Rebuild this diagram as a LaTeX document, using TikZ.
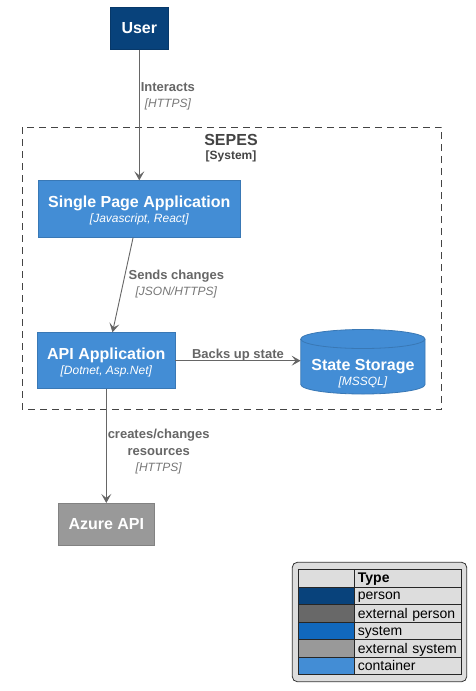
\documentclass[tikz,border=0pt]{standalone}
\usepackage{fontspec}
\setmainfont{Liberation Sans}
\usepackage{xcolor}
\usetikzlibrary{arrows.meta, positioning, calc}
\definecolor{personblue}{HTML}{08427B}
\definecolor{extperson}{HTML}{686868}
\definecolor{sysblue}{HTML}{1168BD}
\definecolor{extsys}{HTML}{999999}
\definecolor{contblue}{HTML}{438DD5}
\definecolor{relgray}{HTML}{666666}
\definecolor{techgray}{HTML}{777777}
\definecolor{boundgray}{HTML}{444444}
\definecolor{legbg}{HTML}{DDDDDD}
\newcommand{\tech}[1]{{\mdseries\itshape\fontsize{12}{14}\selectfont #1}}
\tikzset{
    elem/.style={rectangle, draw=#1, text=white, align=center, inner sep=0pt, line width=0.8pt,
        font=\fontsize{16}{15}\selectfont\bfseries},
    rel/.style={-{Stealth[length=9pt, width=10pt, inset=4pt]}, draw=relgray, line width=0.9pt},
    rellabel/.style={text=relgray, align=center, inner sep=1pt,
        font=\fontsize{13}{17}\selectfont\bfseries},
    boundary/.style={draw=boundgray, line width=0.8pt, dash pattern=on 7pt off 5pt},
    legcell/.style={rectangle, draw=black!85, line width=0.8pt, anchor=north west,
        minimum height=17.5pt, inner sep=0pt, font=\fontsize{14}{16}\selectfont},
    legtext/.style={legcell, fill=legbg, minimum width=106.4pt, text width=100pt, inner xsep=3.2pt,
        align=left, execute at begin node={\hyphenpenalty10000\relax}},
    every node/.style={text depth=0pt}
}

\begin{document}
\begin{tikzpicture}[x=1pt, y=-1pt]
    \useasboundingbox[fill=white] (0,0) rectangle (476,691);
    % boundary
    \draw[boundary] (22.3,127) rectangle (441.7,409.3);
    \node[text=boundgray, align=center, font=\fontsize{16}{15}\selectfont\bfseries] (sepes) at (231,147)
        {SEPES\\[-1pt]{\fontsize{12}{14}\selectfont [System]}};
    % elements
    \node[elem=personblue!85!black, fill=personblue, minimum width=57.6pt, minimum height=42pt] (user) at (139.3,28.3) {User};
    \node[elem=contblue!85!black, fill=contblue, minimum width=202.3pt, minimum height=56.6pt] (spa) at (139.3,209)
        {Single Page Application\\\tech{[Javascript, React]}};
    \node[elem=contblue!85!black, fill=contblue, minimum width=137.3pt, minimum height=56pt] (api) at (106.3,360.7)
        {API Application\\\tech{[Dotnet, Asp.Net]}};
    \node[elem=extsys!85!black, fill=extsys, minimum width=96.3pt, minimum height=41.7pt] (azure) at (106.3,524.2) {Azure API};
    % database cylinder
    \draw[contblue!85!black, fill=contblue, line width=0.8pt] (300.8,339) -- (300.8,384.5)
        arc[start angle=180, end angle=360, x radius=62.1pt, y radius=9.5pt] -- (425,339)
        arc[start angle=0, end angle=180, x radius=62.1pt, y radius=9.5pt] -- cycle;
    \draw[contblue!85!black, line width=0.8pt] (300.8,339) arc[start angle=180, end angle=360, x radius=62.1pt, y radius=9.5pt];
    \node[text=white, align=center, inner sep=0pt, minimum width=124.2pt, minimum height=40pt,
        font=\fontsize{16}{15}\selectfont\bfseries] (store) at (362.9,372.5) {State Storage\\\tech{[MSSQL]}};
    % relations
    \draw[rel] (user) -- (spa) node[rellabel, anchor=west, pos=0.35]
        {Interacts\\[-1pt]\tech{\color{techgray}[HTTPS]}};
    \draw[rel] (spa) -- (api) node[rellabel, anchor=west, pos=0.48, xshift=4pt]
        {Sends changes\\[-1pt]\tech{\color{techgray}[JSON/HTTPS]}};
    \draw[rel] (api) -- (api -| store.west) node[rellabel, midway, above, yshift=1pt] {Backs up state};
    \draw[rel] (api) -- (azure) node[rellabel, anchor=west, pos=0.54]
        {creates/changes\\resources\\[-1pt]\tech{\color{techgray}[HTTPS]}};
    % legend
    \node[draw=black!80, fill=legbg, rounded corners=5pt, line width=0.8pt, minimum width=174.4pt,
        minimum height=119.4pt] (legend) at (379.5,622) {};
    \node[legcell, fill=legbg, minimum width=56pt] (lc0) at (298.3,569) {};
    \node[legtext, font=\fontsize{14}{16}\selectfont\bfseries] (lt0) at (354.3,569) {Type};
    \foreach \c/\t [count=\i] in {personblue/person, extperson/external person, sysblue/system,
        extsys/external system, contblue/container} {
        \node[legcell, fill=\c, minimum width=56pt] (lc\i) at (298.3,{569+17.5*\i}) {};
        \node[legtext] (lt\i) at (354.3,{569+17.5*\i}) {\t};
    }
\end{tikzpicture}
\end{document}
